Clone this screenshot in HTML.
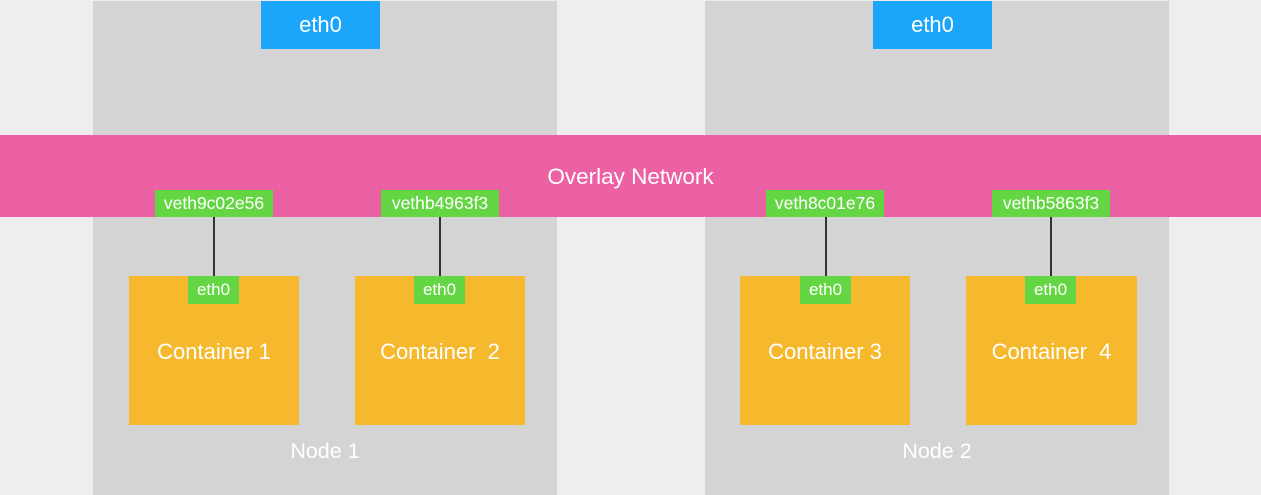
<!DOCTYPE html>
<html><head><style>
body{margin:0;width:1261px;height:495px;background:#eeeeee;position:relative;overflow:hidden;font-family:"Liberation Sans",sans-serif;color:#fff}
div{position:absolute;box-sizing:border-box;display:flex;align-items:center;justify-content:center;white-space:nowrap}
.node{background:#d4d4d4;top:1px;width:464px;height:494px}
.blue{background:#1ba6fc;top:1px;width:119px;height:48px;font-size:22px}
.pink{background:#ec60a4;left:0;top:135px;width:1261px;height:82px;font-size:22.5px}
.veth{background:#64d644;top:190px;width:118px;height:27px;font-size:17.5px}
.line{background:#333;top:217px;width:2px;height:59px}
.cont{background:#f6b82c;top:276px;width:170px;height:149px;font-size:22px;align-items:flex-start;padding-top:63px}
.e{background:#64d644;top:276px;width:51px;height:28px;font-size:17px}
.lbl{top:438px;width:464px;height:26px;font-size:21.5px}
</style></head><body>
<div class="node" style="left:93px"></div>
<div class="node" style="left:705px"></div>
<div class="blue" style="left:261px">eth0</div>
<div class="blue" style="left:873px">eth0</div>
<div class="pink"><span style="position:relative;top:1px">Overlay Network</span></div>
<div class="veth" style="left:155px">veth9c02e56</div>
<div class="veth" style="left:381px">vethb4963f3</div>
<div class="veth" style="left:766px">veth8c01e76</div>
<div class="veth" style="left:992px">vethb5863f3</div>
<div class="line" style="left:213px"></div>
<div class="line" style="left:439px"></div>
<div class="line" style="left:825px"></div>
<div class="line" style="left:1050px"></div>
<div class="cont" style="left:129px">Container 1</div>
<div class="cont" style="left:355px">Container&nbsp; 2</div>
<div class="cont" style="left:740px">Container 3</div>
<div class="cont" style="left:966px;width:171px">Container&nbsp; 4</div>
<div class="e" style="left:188px">eth0</div>
<div class="e" style="left:414px">eth0</div>
<div class="e" style="left:800px">eth0</div>
<div class="e" style="left:1025px">eth0</div>
<div class="lbl" style="left:93px">Node 1</div>
<div class="lbl" style="left:705px">Node 2</div>
</body></html>
